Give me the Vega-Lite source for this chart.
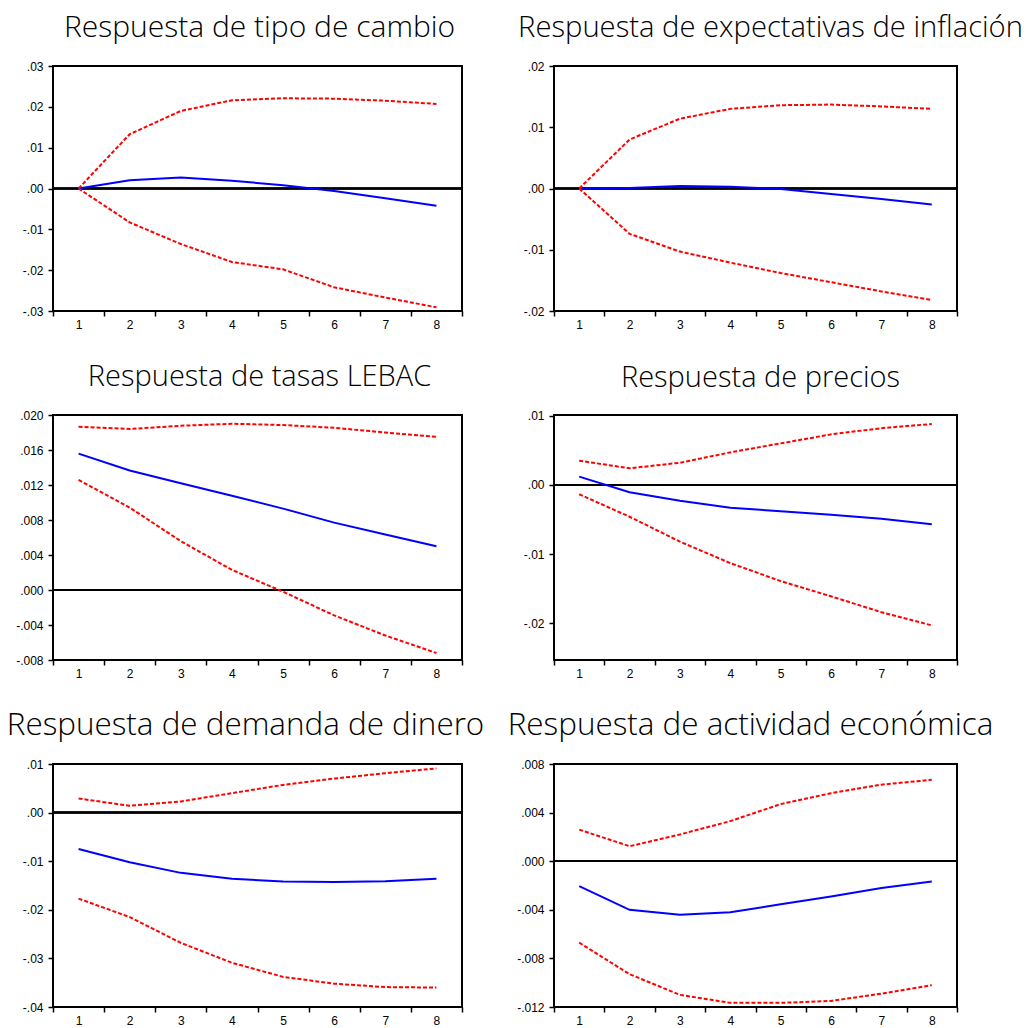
{
  "$schema": "https://vega.github.io/schema/vega-lite/v6.json",
  "background": "white",
  "padding": {"left": 5, "top": 12, "right": 0, "bottom": 0},
  "bounds": "flush",
  "columns": 2,
  "spacing": {"row": 104, "column": 92},
  "config": {
    "view": {"stroke": "black", "strokeWidth": 2},
    "axis": {"domain": false, "grid": false, "tickColor": "black", "tickWidth": 1.5, "tickSize": 5, "labelColor": "black", "labelFont": "Liberation Sans", "labelFontSize": 12, "labelOverlap": false, "title": null},
    "axisY": {"tickCount": 20},
    "title": {"font": "Open Sans", "fontWeight": 300, "fontSize": 30, "color": "black", "anchor": "middle", "frame": "group", "baseline": "alphabetic", "offset": 17}
  },
  "datasets": {
    "p1": [
      {"h": 1, "resp": 0.0, "lo": 0.0, "hi": 0.0},
      {"h": 2, "resp": 0.002, "lo": -0.0083, "hi": 0.0133},
      {"h": 3, "resp": 0.0027, "lo": -0.0136, "hi": 0.019},
      {"h": 4, "resp": 0.0019, "lo": -0.018, "hi": 0.0216},
      {"h": 5, "resp": 0.0008, "lo": -0.0198, "hi": 0.0221},
      {"h": 6, "resp": -0.0006, "lo": -0.0242, "hi": 0.022},
      {"h": 7, "resp": -0.0024, "lo": -0.0267, "hi": 0.0215},
      {"h": 8, "resp": -0.0042, "lo": -0.0291, "hi": 0.0207}
    ],
    "p2": [
      {"h": 1, "resp": 0.0, "lo": 0.0, "hi": 0.0},
      {"h": 2, "resp": 0.0001, "lo": -0.0074, "hi": 0.008},
      {"h": 3, "resp": 0.0004, "lo": -0.0103, "hi": 0.0114},
      {"h": 4, "resp": 0.0003, "lo": -0.0121, "hi": 0.013},
      {"h": 5, "resp": -0.0001, "lo": -0.0138, "hi": 0.0136},
      {"h": 6, "resp": -0.0009, "lo": -0.0153, "hi": 0.0137},
      {"h": 7, "resp": -0.0017, "lo": -0.0168, "hi": 0.0134},
      {"h": 8, "resp": -0.0026, "lo": -0.0182, "hi": 0.013}
    ],
    "p3": [
      {"h": 1, "resp": 0.01558, "lo": 0.01258, "hi": 0.01865},
      {"h": 2, "resp": 0.01365, "lo": 0.00942, "hi": 0.0184},
      {"h": 3, "resp": 0.0122, "lo": 0.00558, "hi": 0.01877},
      {"h": 4, "resp": 0.01077, "lo": 0.0023, "hi": 0.019},
      {"h": 5, "resp": 0.0093, "lo": -0.0002, "hi": 0.01885},
      {"h": 6, "resp": 0.0077, "lo": -0.0029, "hi": 0.01854},
      {"h": 7, "resp": 0.00635, "lo": -0.0052, "hi": 0.018},
      {"h": 8, "resp": 0.005, "lo": -0.0072, "hi": 0.0175}
    ],
    "p4": [
      {"h": 1, "resp": 0.0012, "lo": -0.00135, "hi": 0.0035},
      {"h": 2, "resp": -0.00106, "lo": -0.0046, "hi": 0.0024},
      {"h": 3, "resp": -0.0023, "lo": -0.0082, "hi": 0.0032},
      {"h": 4, "resp": -0.0033, "lo": -0.0113, "hi": 0.0047},
      {"h": 5, "resp": -0.0038, "lo": -0.0139, "hi": 0.006},
      {"h": 6, "resp": -0.0043, "lo": -0.0161, "hi": 0.0073},
      {"h": 7, "resp": -0.0049, "lo": -0.0184, "hi": 0.0082},
      {"h": 8, "resp": -0.0057, "lo": -0.0203, "hi": 0.0088}
    ],
    "p5": [
      {"h": 1, "resp": -0.0075, "lo": -0.0177, "hi": 0.0029},
      {"h": 2, "resp": -0.0102, "lo": -0.0215, "hi": 0.0014},
      {"h": 3, "resp": -0.0124, "lo": -0.0268, "hi": 0.0023},
      {"h": 4, "resp": -0.0136, "lo": -0.0309, "hi": 0.004},
      {"h": 5, "resp": -0.0142, "lo": -0.0338, "hi": 0.0057},
      {"h": 6, "resp": -0.0143, "lo": -0.0352, "hi": 0.007},
      {"h": 7, "resp": -0.0141, "lo": -0.0359, "hi": 0.0081},
      {"h": 8, "resp": -0.0136, "lo": -0.036, "hi": 0.0091}
    ],
    "p6": [
      {"h": 1, "resp": -0.00205, "lo": -0.0067, "hi": 0.0026},
      {"h": 2, "resp": -0.004, "lo": -0.0093, "hi": 0.00123},
      {"h": 3, "resp": -0.0044, "lo": -0.011, "hi": 0.0022},
      {"h": 4, "resp": -0.0042, "lo": -0.01166, "hi": 0.0033},
      {"h": 5, "resp": -0.00355, "lo": -0.01166, "hi": 0.0047},
      {"h": 6, "resp": -0.0029, "lo": -0.0115, "hi": 0.0056},
      {"h": 7, "resp": -0.0022, "lo": -0.0109, "hi": 0.0063},
      {"h": 8, "resp": -0.00167, "lo": -0.0102, "hi": 0.0067}
    ]
  },
  "concat": [
    {
      "title": {"text": "Respuesta de tipo de cambio", "dx": 2},
      "width": 409, "height": 245,
      "data": {"name": "p1"},
      "encoding": {
        "x": {"field": "h", "type": "ordinal", "scale": {"type": "band", "paddingInner": 0, "paddingOuter": 0}, "axis": {"labelAngle": 0, "tickBand": "extent", "labelPadding": 3}}
      },
      "layer": [
        {"mark": {"type": "rule", "color": "black", "strokeWidth": 1.5}, "encoding": {"x": null, "y": {"datum": 0, "type": "quantitative"}}},
        {"mark": {"type": "line", "color": "#0000ff", "strokeWidth": 2}, "encoding": {"y": {"field": "resp", "type": "quantitative", "scale": {"domain": [-0.03, 0.03], "nice": false, "zero": false}, "axis": {"values": [-0.03, -0.02, -0.01, 0, 0.01, 0.02, 0.03], "tickCount": 20, "labelOverlap": false, "labelPadding": 5, "labelExpr": "(datum.value < 0 ? '-' : '') + replace(format(abs(datum.value), '.2f'), '0.', '.')"}}}},
        {"mark": {"type": "line", "color": "#ff0000", "strokeWidth": 2, "strokeDash": [4, 2]}, "encoding": {"y": {"field": "hi", "type": "quantitative"}}},
        {"mark": {"type": "line", "color": "#ff0000", "strokeWidth": 2, "strokeDash": [4, 2]}, "encoding": {"y": {"field": "lo", "type": "quantitative"}}}
      ]
    },
    {
      "title": {"text": "Respuesta de expectativas de inflación", "fontSize": 29.2, "dx": 15},
      "width": 403, "height": 245,
      "data": {"name": "p2"},
      "encoding": {
        "x": {"field": "h", "type": "ordinal", "scale": {"type": "band", "paddingInner": 0, "paddingOuter": 0}, "axis": {"labelAngle": 0, "tickBand": "extent", "labelPadding": 3}}
      },
      "layer": [
        {"mark": {"type": "rule", "color": "black", "strokeWidth": 1.5}, "encoding": {"x": null, "y": {"datum": 0, "type": "quantitative"}}},
        {"mark": {"type": "line", "color": "#0000ff", "strokeWidth": 2}, "encoding": {"y": {"field": "resp", "type": "quantitative", "scale": {"domain": [-0.02, 0.02], "nice": false, "zero": false}, "axis": {"values": [-0.02, -0.01, 0, 0.01, 0.02], "tickCount": 20, "labelOverlap": false, "labelPadding": 5, "labelExpr": "(datum.value < 0 ? '-' : '') + replace(format(abs(datum.value), '.2f'), '0.', '.')"}}}},
        {"mark": {"type": "line", "color": "#ff0000", "strokeWidth": 2, "strokeDash": [4, 2]}, "encoding": {"y": {"field": "hi", "type": "quantitative"}}},
        {"mark": {"type": "line", "color": "#ff0000", "strokeWidth": 2, "strokeDash": [4, 2]}, "encoding": {"y": {"field": "lo", "type": "quantitative"}}}
      ]
    },
    {
      "title": {"text": "Respuesta de tasas LEBAC", "fontSize": 29, "dx": 2},
      "width": 409, "height": 245,
      "data": {"name": "p3"},
      "encoding": {
        "x": {"field": "h", "type": "ordinal", "scale": {"type": "band", "paddingInner": 0, "paddingOuter": 0}, "axis": {"labelAngle": 0, "tickBand": "extent", "labelPadding": 3}}
      },
      "layer": [
        {"mark": {"type": "rule", "color": "black", "strokeWidth": 1.5}, "encoding": {"x": null, "y": {"datum": 0, "type": "quantitative"}}},
        {"mark": {"type": "line", "color": "#0000ff", "strokeWidth": 2}, "encoding": {"y": {"field": "resp", "type": "quantitative", "scale": {"domain": [-0.008, 0.02], "nice": false, "zero": false}, "axis": {"values": [-0.008, -0.004, 0, 0.004, 0.008, 0.012, 0.016, 0.02], "tickCount": 20, "labelOverlap": false, "labelPadding": 5, "labelExpr": "(datum.value < 0 ? '-' : '') + replace(format(abs(datum.value), '.3f'), '0.', '.')"}}}},
        {"mark": {"type": "line", "color": "#ff0000", "strokeWidth": 2, "strokeDash": [4, 2]}, "encoding": {"y": {"field": "hi", "type": "quantitative"}}},
        {"mark": {"type": "line", "color": "#ff0000", "strokeWidth": 2, "strokeDash": [4, 2]}, "encoding": {"y": {"field": "lo", "type": "quantitative"}}}
      ]
    },
    {
      "title": {"text": "Respuesta de precios", "fontSize": 29, "dx": 5},
      "width": 403, "height": 245,
      "data": {"name": "p4"},
      "encoding": {
        "x": {"field": "h", "type": "ordinal", "scale": {"type": "band", "paddingInner": 0, "paddingOuter": 0}, "axis": {"labelAngle": 0, "tickBand": "extent", "labelPadding": 3}}
      },
      "layer": [
        {"mark": {"type": "rule", "color": "black", "strokeWidth": 1.5}, "encoding": {"x": null, "y": {"datum": 0, "type": "quantitative"}}},
        {"mark": {"type": "line", "color": "#0000ff", "strokeWidth": 2}, "encoding": {"y": {"field": "resp", "type": "quantitative", "scale": {"domain": [-0.0253, 0.0101], "nice": false, "zero": false}, "axis": {"values": [-0.02, -0.01, 0, 0.01], "tickCount": 20, "labelOverlap": false, "labelPadding": 5, "labelExpr": "(datum.value < 0 ? '-' : '') + replace(format(abs(datum.value), '.2f'), '0.', '.')"}}}},
        {"mark": {"type": "line", "color": "#ff0000", "strokeWidth": 2, "strokeDash": [4, 2]}, "encoding": {"y": {"field": "hi", "type": "quantitative"}}},
        {"mark": {"type": "line", "color": "#ff0000", "strokeWidth": 2, "strokeDash": [4, 2]}, "encoding": {"y": {"field": "lo", "type": "quantitative"}}}
      ]
    },
    {
      "title": {"text": "Respuesta de demanda de dinero", "fontSize": 31.4, "dx": -12},
      "width": 409, "height": 243,
      "data": {"name": "p5"},
      "encoding": {
        "x": {"field": "h", "type": "ordinal", "scale": {"type": "band", "paddingInner": 0, "paddingOuter": 0}, "axis": {"labelAngle": 0, "tickBand": "extent", "labelPadding": 3}}
      },
      "layer": [
        {"mark": {"type": "rule", "color": "black", "strokeWidth": 1.5}, "encoding": {"x": null, "y": {"datum": 0, "type": "quantitative"}}},
        {"mark": {"type": "line", "color": "#0000ff", "strokeWidth": 2}, "encoding": {"y": {"field": "resp", "type": "quantitative", "scale": {"domain": [-0.04, 0.01], "nice": false, "zero": false}, "axis": {"values": [-0.04, -0.03, -0.02, -0.01, 0, 0.01], "tickCount": 20, "labelOverlap": false, "labelPadding": 5, "labelExpr": "(datum.value < 0 ? '-' : '') + replace(format(abs(datum.value), '.2f'), '0.', '.')"}}}},
        {"mark": {"type": "line", "color": "#ff0000", "strokeWidth": 2, "strokeDash": [4, 2]}, "encoding": {"y": {"field": "hi", "type": "quantitative"}}},
        {"mark": {"type": "line", "color": "#ff0000", "strokeWidth": 2, "strokeDash": [4, 2]}, "encoding": {"y": {"field": "lo", "type": "quantitative"}}}
      ]
    },
    {
      "title": {"text": "Respuesta de actividad económica", "fontSize": 31.4, "dx": -5},
      "width": 403, "height": 243,
      "data": {"name": "p6"},
      "encoding": {
        "x": {"field": "h", "type": "ordinal", "scale": {"type": "band", "paddingInner": 0, "paddingOuter": 0}, "axis": {"labelAngle": 0, "tickBand": "extent", "labelPadding": 3}}
      },
      "layer": [
        {"mark": {"type": "rule", "color": "black", "strokeWidth": 1.5}, "encoding": {"x": null, "y": {"datum": 0, "type": "quantitative"}}},
        {"mark": {"type": "line", "color": "#0000ff", "strokeWidth": 2}, "encoding": {"y": {"field": "resp", "type": "quantitative", "scale": {"domain": [-0.012, 0.008], "nice": false, "zero": false}, "axis": {"values": [-0.012, -0.008, -0.004, 0, 0.004, 0.008], "tickCount": 20, "labelOverlap": false, "labelPadding": 5, "labelExpr": "(datum.value < 0 ? '-' : '') + replace(format(abs(datum.value), '.3f'), '0.', '.')"}}}},
        {"mark": {"type": "line", "color": "#ff0000", "strokeWidth": 2, "strokeDash": [4, 2]}, "encoding": {"y": {"field": "hi", "type": "quantitative"}}},
        {"mark": {"type": "line", "color": "#ff0000", "strokeWidth": 2, "strokeDash": [4, 2]}, "encoding": {"y": {"field": "lo", "type": "quantitative"}}}
      ]
    }
  ]
}
